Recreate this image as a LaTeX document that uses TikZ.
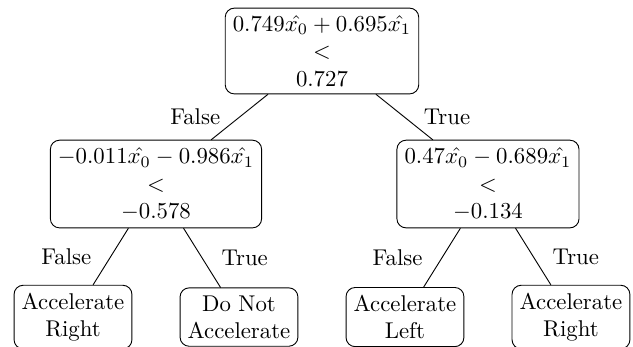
\documentclass[tikz,border=0pt]{standalone}
\begin{document}
\begin{tikzpicture}[line join=round, line cap=round,
	split/.style={draw, rounded corners, align=center},
	leaf/.style={draw, rounded corners, align=center},
	lbl/.style={midway}]
	\useasboundingbox (-4.962,-4.561) rectangle (4.793,0.786);
	% decision nodes
	\node[split] (root) at (0,0) {$0.749\hat{x_0} + 0.695\hat{x_1}$\\$<$\\$0.727$};
	\node[split] (l) at (-2.558,-2.05) {$-0.011\hat{x_0} - 0.986\hat{x_1}$\\$<$\\$-0.578$};
	\node[split] (r) at (2.558,-2.05) {$0.47\hat{x_0} - 0.689\hat{x_1}$\\$<$\\$-0.134$};
	% leaves
	\node[leaf] (ll) at (-3.837,-4.10) {Accelerate\\Right};
	\node[leaf] (lr) at (-1.279,-4.10) {Do Not\\Accelerate};
	\node[leaf] (rl) at (1.279,-4.10) {Accelerate\\Left};
	\node[leaf] (rr) at (3.837,-4.10) {Accelerate\\Right};
	% edges
	\draw (root) -- node[lbl, left=5pt] {False} (l);
	\draw (root) -- node[lbl, right=5pt] {True} (r);
	\draw (l) -- node[lbl, left=5pt] {False} (ll);
	\draw (l) -- node[lbl, right=5pt] {True} (lr);
	\draw (r) -- node[lbl, left=5pt] {False} (rl);
	\draw (r) -- node[lbl, right=5pt] {True} (rr);
\end{tikzpicture}
\end{document}
